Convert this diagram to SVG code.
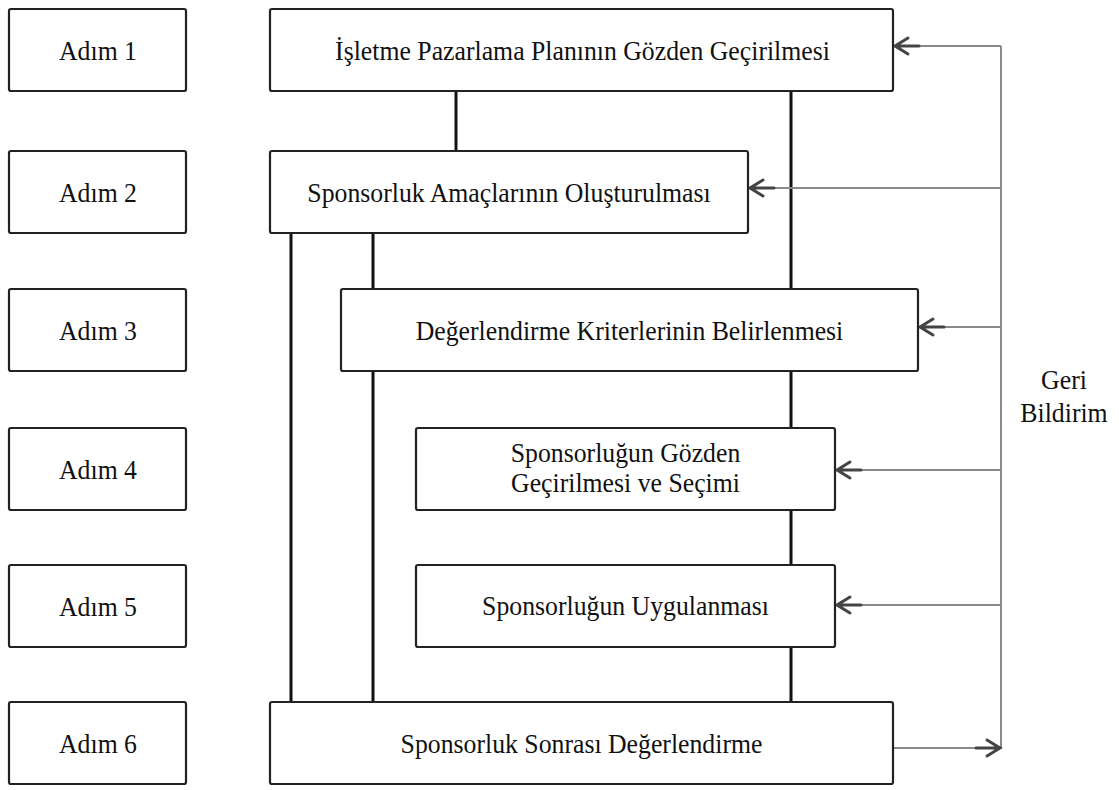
<svg xmlns="http://www.w3.org/2000/svg" xmlns:xlink="http://www.w3.org/1999/xlink" width="1119" height="790" viewBox="0 0 1119 790">
<style>
.box{fill:#fff;stroke:#222;stroke-width:2.2}
.t{fill:#111;text-anchor:middle}
.conn{stroke:#111;stroke-width:3;fill:none}
.fb{stroke:#8a8a8a;stroke-width:2;fill:none}
.ah{stroke:#444;stroke-width:3;fill:none;stroke-linecap:round}
</style>
<defs>
<path id="arrL" d="M0,0 H24 M13,-8 L0,0 L13,8"/>
<path id="arrR" d="M0,0 H-24 M-13,-8 L0,0 L-13,8"/>
</defs>
<rect width="1119" height="790" fill="#fff"/>
<g id="connectors">
<line class="conn" x1="456" y1="91" x2="456" y2="151"/>
<line class="conn" x1="791" y1="91" x2="791" y2="702"/>
<line class="conn" x1="291" y1="233" x2="291" y2="702"/>
<line class="conn" x1="373" y1="233" x2="373" y2="702"/>
<g id="feedback">
<line class="fb" x1="1001" y1="46" x2="1001" y2="748"/>
<line class="fb" x1="1001" y1="46" x2="893" y2="46"/>
<line class="fb" x1="1001" y1="188" x2="748" y2="188"/>
<line class="fb" x1="1001" y1="327" x2="918" y2="327"/>
<line class="fb" x1="1001" y1="470" x2="835" y2="470"/>
<line class="fb" x1="1001" y1="605" x2="835" y2="605"/>
<line class="fb" x1="893" y1="748" x2="1001" y2="748"/>
<use class="ah" xlink:href="#arrL" href="#arrL" x="895" y="46"/>
<use class="ah" xlink:href="#arrL" href="#arrL" x="750" y="188"/>
<use class="ah" xlink:href="#arrL" href="#arrL" x="920" y="327"/>
<use class="ah" xlink:href="#arrL" href="#arrL" x="837" y="470"/>
<use class="ah" xlink:href="#arrL" href="#arrL" x="837" y="605"/>
<use class="ah" xlink:href="#arrR" href="#arrR" x="1000" y="748"/>
</g>
</g>
<g font-family="Liberation Serif" font-size="28">
<g id="step1"><rect class="box" x="9" y="9" width="177" height="82" rx="2"/><text class="t" transform="translate(98,59.5) scale(0.92,1)">Adım 1</text></g>
<g id="step2"><rect class="box" x="9" y="151" width="177" height="82" rx="2"/><text class="t" transform="translate(98,201.5) scale(0.92,1)">Adım 2</text></g>
<g id="step3"><rect class="box" x="9" y="289" width="177" height="82" rx="2"/><text class="t" transform="translate(98,339.5) scale(0.92,1)">Adım 3</text></g>
<g id="step4"><rect class="box" x="9" y="428" width="177" height="82" rx="2"/><text class="t" transform="translate(98,478.5) scale(0.92,1)">Adım 4</text></g>
<g id="step5"><rect class="box" x="9" y="565" width="177" height="82" rx="2"/><text class="t" transform="translate(98,615.5) scale(0.92,1)">Adım 5</text></g>
<g id="step6"><rect class="box" x="9" y="702" width="177" height="82" rx="2"/><text class="t" transform="translate(98,752.5) scale(0.92,1)">Adım 6</text></g>
<g id="n1"><rect class="box" x="270" y="9" width="623" height="82" rx="2"/><text class="t" transform="translate(582.5,59.5) scale(0.92,1)">İşletme Pazarlama Planının Gözden Geçirilmesi</text></g>
<g id="n2"><rect class="box" x="270" y="151" width="478" height="82" rx="2"/><text class="t" transform="translate(509,201.5) scale(0.92,1)">Sponsorluk Amaçlarının Oluşturulması</text></g>
<g id="n3"><rect class="box" x="341" y="289" width="577" height="82" rx="2"/><text class="t" transform="translate(629.5,339.5) scale(0.92,1)">Değerlendirme Kriterlerinin Belirlenmesi</text></g>
<g id="n4"><rect class="box" x="416" y="428" width="419" height="82" rx="2"/><text class="t" transform="translate(625.5,462) scale(0.92,1)">Sponsorluğun Gözden</text><text class="t" transform="translate(625.5,492) scale(0.92,1)">Geçirilmesi ve Seçimi</text></g>
<g id="n5"><rect class="box" x="416" y="565" width="419" height="82" rx="2"/><text class="t" transform="translate(625.5,615) scale(0.92,1)">Sponsorluğun Uygulanması</text></g>
<g id="n6"><rect class="box" x="270" y="702" width="623" height="82" rx="2"/><text class="t" transform="translate(581.5,752.5) scale(0.92,1)">Sponsorluk Sonrası Değerlendirme</text></g>
<g id="label"><text class="t" transform="translate(1064,389) scale(0.92,1)">Geri</text><text class="t" transform="translate(1064,422) scale(0.92,1)">Bildirim</text></g>
</g>
</svg>
